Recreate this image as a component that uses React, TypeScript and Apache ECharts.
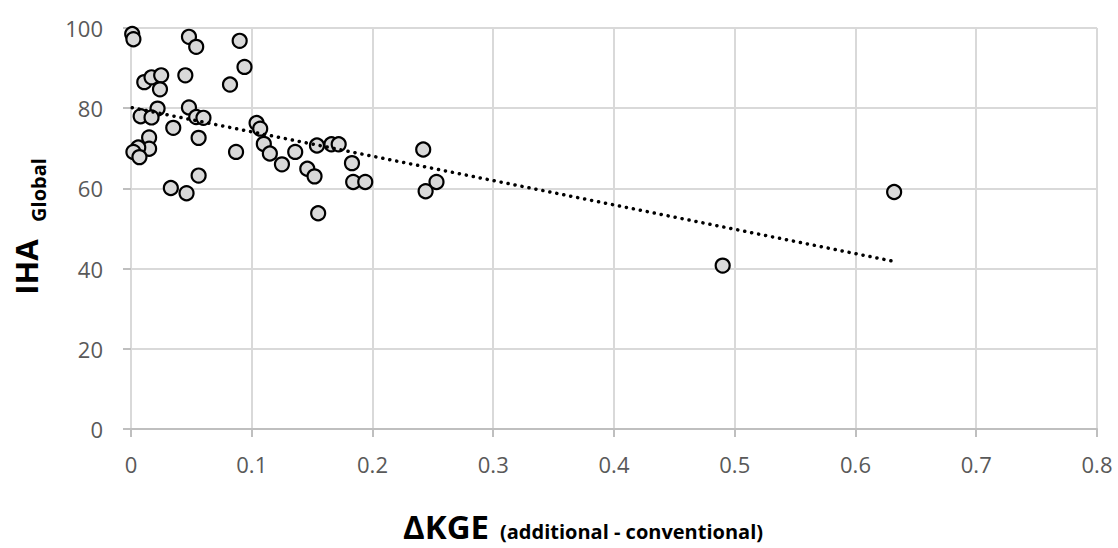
import React, { useEffect, useRef } from "react";
import * as echarts from "echarts";

const xValues = [
  0.001, 0.002, 0.048, 0.054, 0.09, 0.094, 0.082, 0.045, 0.011, 0.017,
  0.025, 0.024, 0.022, 0.048, 0.008, 0.017, 0.054, 0.06, 0.035, 0.015,
  0.056, 0.015, 0.006, 0.002, 0.007, 0.087, 0.056, 0.033, 0.046, 0.104,
  0.107, 0.11, 0.115, 0.125, 0.136, 0.146, 0.152, 0.154, 0.166, 0.172,
  0.183, 0.184, 0.194, 0.155, 0.242, 0.253, 0.244, 0.49, 0.632,
];
const yValues = [
  98.5, 97.2, 97.8, 95.3, 96.8, 90.3, 85.9, 88.2, 86.5, 87.7,
  88.2, 84.7, 79.9, 80.2, 78.0, 77.7, 77.8, 77.6, 75.1, 72.7,
  72.6, 69.9, 70.2, 69.1, 67.8, 69.1, 63.2, 60.1, 58.8, 76.3,
  74.9, 71.1, 68.7, 66.0, 69.1, 64.9, 63.0, 70.7, 71.0, 71.0,
  66.3, 61.6, 61.6, 53.8, 69.7, 61.6, 59.3, 40.75, 59.1,
];
const xTitle = "ΔKGE";
const xSubtitle = "(additional - conventional)";
const yTitle = "IHA";
const ySubtitle = "Global";

function regression(xs: number[], ys: number[]) {
  const n = xs.length;
  const mx = xs.reduce((a, b) => a + b, 0) / n;
  const my = ys.reduce((a, b) => a + b, 0) / n;
  let sxy = 0;
  let sxx = 0;
  for (let i = 0; i < n; i++) {
    sxy += (xs[i] - mx) * (ys[i] - my);
    sxx += (xs[i] - mx) * (xs[i] - mx);
  }
  const slope = sxy / sxx;
  return { slope, intercept: my - slope * mx };
}

export default function App() {
  const ref = useRef<HTMLDivElement>(null);
  useEffect(() => {
    document.body.style.margin = "0";
    const chart = echarts.init(ref.current!, null, { renderer: "svg" });
    const { slope, intercept } = regression(xValues, yValues);
    const x0 = Math.min(...xValues);
    const x1 = Math.max(...xValues);
    const trend = [
      [x0, intercept + slope * x0],
      [x1, intercept + slope * x1],
    ];
    const font = "'Open Sans', 'Noto Sans', sans-serif";
    chart.setOption({
      animation: false,
      grid: { left: 131, right: 21, top: 28, bottom: 119, containLabel: false },
      xAxis: {
        type: "value",
        min: 0,
        max: 0.8,
        interval: 0.1,
        axisLine: { show: true, onZero: false, lineStyle: { color: "#bfbfbf", width: 2 } },
        axisTick: { show: true, length: 8, lineStyle: { color: "#bfbfbf", width: 2 } },
        splitLine: { show: true, lineStyle: { color: "#d9d9d9", width: 2 } },
        axisLabel: {
          margin: 24,
          color: "#595959",
          fontSize: 22,
          fontFamily: font,
          formatter: (v: number) => String(Math.round(v * 10) / 10),
        },
      },
      yAxis: {
        type: "value",
        min: 0,
        max: 100,
        interval: 20,
        axisLine: { show: true, onZero: false, lineStyle: { color: "#d9d9d9", width: 2 } },
        axisTick: { show: true, length: 8, lineStyle: { color: "#bfbfbf", width: 2 } },
        splitLine: { show: true, lineStyle: { color: "#d9d9d9", width: 2 } },
        axisLabel: {
          margin: 28,
          color: "#595959",
          fontSize: 22,
          fontFamily: font,
        },
      },
      series: [
        {
          type: "line",
          data: trend,
          symbol: "none",
          silent: true,
          z: 3,
          lineStyle: { color: "#000", width: 3.5, type: [0.1, 7], cap: "round" },
        },
        {
          type: "scatter",
          data: xValues.map((x, i) => [x, yValues[i]]),
          symbol: "circle",
          symbolSize: 14,
          z: 2,
          itemStyle: { color: "#d9d9d9", borderColor: "#000", borderWidth: 2.2, opacity: 1 },
        },
      ],
      graphic: [
        {
          type: "text",
          x: 26,
          y: 267,
          rotation: Math.PI / 2,
          style: {
            text: yTitle,
            fontSize: 31,
            fontWeight: "bold",
            fontFamily: font,
            fill: "#000",
            align: "center",
            verticalAlign: "middle",
          },
        },
        {
          type: "text",
          x: 38,
          y: 190,
          rotation: Math.PI / 2,
          style: {
            text: ySubtitle,
            fontSize: 20,
            fontWeight: "bold",
            fontFamily: font,
            fill: "#000",
            align: "center",
            verticalAlign: "middle",
          },
        },
        {
          type: "text",
          x: 403,
          y: 526,
          style: {
            text: xTitle,
            fontSize: 33,
            fontWeight: "bold",
            fontFamily: font,
            fill: "#000",
            align: "left",
            verticalAlign: "middle",
          },
        },
        {
          type: "text",
          x: 500,
          y: 531,
          style: {
            text: xSubtitle,
            fontSize: 20,
            fontWeight: "bold",
            fontFamily: font,
            fill: "#000",
            align: "left",
            verticalAlign: "middle",
          },
        },
      ],
    });
    return () => chart.dispose();
  }, []);
  return <div ref={ref} style={{ width: 1118, height: 548 }} />;
}
